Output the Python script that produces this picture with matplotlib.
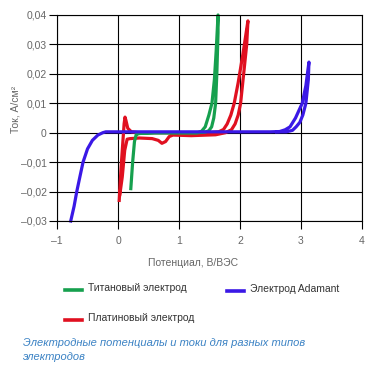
import matplotlib
matplotlib.use("Agg")
import matplotlib.pyplot as plt
from matplotlib.lines import Line2D
from matplotlib.ticker import FuncFormatter

# Titanium electrode (x: potential V, y: current A/cm2)
ti_x = [0.21, 0.24, 0.27, 0.30, 0.40, 0.80, 1.20, 1.30, 1.37, 1.43, 1.49, 1.54, 1.58, 1.61, 1.64,
        1.64, 1.62, 1.60, 1.57, 1.535, 1.49, 1.43, 1.30, 1.00, 0.60, 0.32]
ti_y = [-0.019, -0.010, -0.003, -0.0005, 0.0, 0.0, 0.0, 0.0, 0.0005, 0.002, 0.006, 0.010, 0.018, 0.028, 0.040,
        0.034, 0.020, 0.010, 0.005, 0.002, 0.0007, 0.0002, 0.0, 0.0, 0.0, -0.0003]

# Platinum electrode
pt_x = [0.02, 0.05, 0.08, 0.10, 0.115, 0.13, 0.16, 0.22, 0.35, 1.00, 1.50, 1.65, 1.73, 1.79, 1.85,
        1.905, 1.97, 2.05, 2.13,
        2.11, 2.06, 2.01, 1.97, 1.92, 1.86, 1.76, 1.60, 1.20, 0.90, 0.84, 0.78, 0.72, 0.66, 0.56,
        0.35, 0.20, 0.15, 0.11, 0.07, 0.03]
pt_y = [-0.023, -0.012, -0.003, 0.003, 0.0053, 0.0042, 0.0015, 0.0003, 0.0, 0.0, 0.0, 0.0003, 0.0011, 0.003, 0.006,
        0.010, 0.017, 0.027, 0.038,
        0.030, 0.020, 0.010, 0.006, 0.003, 0.001, 0.0, -0.0007, -0.001, -0.0008, -0.0013, -0.003, -0.0036, -0.0026, -0.002,
        -0.0018, -0.002, -0.0022, -0.006, -0.015, -0.021]

# Adamant electrode
ad_x = [-0.775, -0.72, -0.676, -0.625, -0.573, -0.50, -0.42, -0.33, -0.25, -0.20, 0.50, 1.50, 2.50, 2.65,
        2.74, 2.82, 2.91, 3.02, 3.08, 3.13,
        3.12, 3.08, 3.03, 2.98, 2.92, 2.86, 2.76, 2.60]
ad_y = [-0.030, -0.025, -0.020, -0.015, -0.010, -0.0055, -0.0026, -0.0008, 0.0, 0.0003, 0.0003, 0.0003, 0.0003, 0.0004,
        0.001, 0.002, 0.005, 0.010, 0.016, 0.024,
        0.018, 0.010, 0.006, 0.0035, 0.002, 0.0008, 0.0003, 0.0003]

x_ticks = [-1, 0, 1, 2, 3, 4]
y_ticks = [-0.03, -0.02, -0.01, 0, 0.01, 0.02, 0.03, 0.04]

green = "#16a04e"
red = "#e01020"
blue = "#3a18e6"
grey = "#666666"
font = "Liberation Sans"

fig = plt.figure(figsize=(3.74, 3.68), dpi=100)
ax = fig.add_axes([57 / 374, 1 - 221 / 368, 305 / 374, 206 / 368])

kw = dict(lw=2.3, solid_joinstyle="round", clip_on=False)
ax.plot(pt_x, pt_y, color=red, **kw)
ax.plot(ti_x, ti_y, color=green, **kw)
ax.plot(ad_x, ad_y, color=blue, **kw)

ax.set_xlim(-1, 4)
ax.set_ylim(-0.03, 0.04)
ax.set_xticks(x_ticks)
ax.set_yticks(y_ticks)
ax.grid(True, color="black", lw=0.8)
ax.set_axisbelow(True)
for s in ax.spines.values():
    s.set_color("black")
    s.set_linewidth(0.8)


def fmt(v, pos):
    if abs(v) < 1e-9:
        return "0"
    if float(v).is_integer():
        s = "%d" % v
    else:
        s = "%.2f" % v
    return s.replace("-", "\u2013").replace(".", ",")


ax.xaxis.set_major_formatter(FuncFormatter(fmt))
ax.yaxis.set_major_formatter(FuncFormatter(fmt))
ax.tick_params(axis="both", direction="out", length=6, width=0.8, color="black",
               labelcolor=grey, labelsize=7.5)
ax.tick_params(axis="y", pad=1.5)
ax.tick_params(axis="x", pad=5)
for lab in ax.get_xticklabels() + ax.get_yticklabels():
    lab.set_family(font)

fig.text(15 / 374, 1 - 109 / 368, "Ток, А/см²", color=grey, fontsize=7.5, family=font,
         rotation=90, ha="center", va="center")
fig.text(193 / 374, 1 - 263 / 368, "Потенциал, В/ВЭС", color=grey, fontsize=7.5,
         family=font, ha="center", va="center")

# legend
entries = [(65, 290, green, "Титановый электрод"),
           (227, 291, blue, "Электрод Adamant"),
           (65, 320, red, "Платиновый электрод")]
for x0, y0, c, label in entries:
    yy = 1 - y0 / 368
    fig.add_artist(Line2D([x0 / 374, (x0 + 17) / 374], [yy, yy], color=c, lw=2.6))
    fig.text((x0 + 23) / 374, yy + 2 / 368, label, color="#333333", fontsize=7.5,
             family=font, ha="left", va="center")

fig.text(23 / 374, 1 - 350 / 368, "Электродные потенциалы и токи для разных типов\nэлектродов",
         color="#3b82c4", fontsize=8, family=font, style="italic", ha="left", va="center",
         linespacing=1.5)

fig.savefig("out.png", dpi=100)
